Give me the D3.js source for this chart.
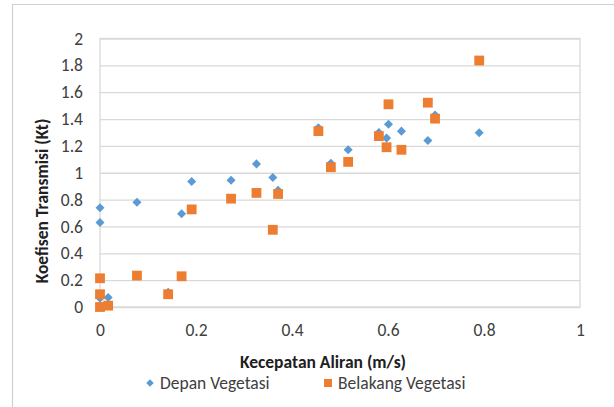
<!DOCTYPE html>
<html>
<head>
<meta charset="utf-8">
<script src="https://cdn.jsdelivr.net/npm/d3@7"></script>
<style>
  html, body { margin: 0; padding: 0; background: #fff; }
  svg { display: block; font-family: Carlito, Calibri, Lato, "Open Sans", sans-serif; }
</style>
</head>
<body>
<svg id="chart" width="614" height="407"></svg>
<script>
// Flow velocity (m/s) shared by both series, one entry per measurement
const kecepatan = [0, 0, 0, 0.017, 0.077, 0.142, 0.17, 0.191, 0.273, 0.326, 0.36,
                   0.371, 0.455, 0.481, 0.517, 0.581, 0.601, 0.597, 0.628, 0.683, 0.698, 0.79];
// Transmission coefficient in front of the vegetation
const depanVegetasi = [0.74, 0.63, 0.065, 0.07, 0.78, 0.11, 0.695, 0.935, 0.944, 1.066, 0.964,
                       0.87, 1.335, 1.07, 1.171, 1.30, 1.362, 1.258, 1.31, 1.24, 1.43, 1.298];
// Transmission coefficient behind the vegetation
const belakangVegetasi = [0.214, 0.095, 0.0, 0.01, 0.234, 0.095, 0.229, 0.727, 0.807, 0.85, 0.575,
                          0.842, 1.31, 1.041, 1.081, 1.273, 1.51, 1.19, 1.171, 1.522, 1.403, 1.836];
const xTicks = [0, 0.2, 0.4, 0.6, 0.8, 1];
const yTicks = [0, 0.2, 0.4, 0.6, 0.8, 1, 1.2, 1.4, 1.6, 1.8, 2];
const seriesNames = ["Depan Vegetasi", "Belakang Vegetasi"];
const colors = ["#5b9bd5", "#ed7d31"];
const fontFamily = "Carlito, Calibri, Lato, sans-serif";
const fontSize = 17.5;

const svg = d3.select("#chart");
const plot = { left: 100, right: 580, top: 38.5, bottom: 307 };

const x = d3.scaleLinear().domain([0, 1]).range([plot.left, plot.right]);
const y = d3.scaleLinear().domain([0, 2]).range([plot.bottom, plot.top]);

// chart area frame (top and left edges)
svg.append("path")
  .attr("d", "M12.5,407 V4.5 H614")
  .attr("fill", "none").attr("stroke", "#d0d0d0").attr("stroke-width", 1.2);

// horizontal gridlines with value labels
const yAxis = d3.axisLeft(y).tickValues(yTicks).tickSize(-(plot.right - plot.left))
  .tickFormat(d3.format("~g")).tickPadding(17);
const gy = svg.append("g").attr("transform", `translate(${plot.left},0)`).call(yAxis);
gy.select(".domain").remove();
gy.selectAll(".tick line").attr("stroke", "#d9d9d9").attr("stroke-width", 1.3);
gy.selectAll(".tick text").attr("fill", "#404040").attr("font-size", fontSize)
  .attr("font-family", fontFamily);

// x axis labels
const xAxis = d3.axisBottom(x).tickValues(xTicks).tickSize(0)
  .tickFormat(d3.format("~g")).tickPadding(17);
const gx = svg.append("g").attr("transform", `translate(0,${plot.bottom})`).call(xAxis);
gx.select(".domain").remove();
gx.selectAll(".tick text").attr("fill", "#404040").attr("font-size", fontSize)
  .attr("font-family", fontFamily);

// plot area border
svg.append("rect")
  .attr("x", plot.left).attr("y", plot.top)
  .attr("width", plot.right - plot.left).attr("height", plot.bottom - plot.top)
  .attr("fill", "none").attr("stroke", "#d9d9d9").attr("stroke-width", 1.3);

// markers
const diamond = d3.symbol().type(d3.symbolDiamond2).size(52);
const square = d3.symbol().type(d3.symbolSquare).size(96);

svg.append("g").selectAll("path").data(kecepatan).join("path")
  .attr("d", diamond)
  .attr("transform", (d, i) => `translate(${x(d)},${y(depanVegetasi[i])})`)
  .attr("fill", colors[0]);

svg.append("g").selectAll("path").data(kecepatan).join("path")
  .attr("d", square)
  .attr("transform", (d, i) => `translate(${x(d)},${y(belakangVegetasi[i])})`)
  .attr("fill", colors[1]);

// axis titles
svg.append("text")
  .attr("x", 323).attr("y", 368)
  .attr("text-anchor", "middle").attr("font-weight", "bold").attr("font-size", fontSize)
  .attr("fill", "#202020").text("Kecepatan Aliran (m/s)");

svg.append("text")
  .attr("transform", "translate(48,201) rotate(-90)")
  .attr("text-anchor", "middle").attr("font-weight", "bold").attr("font-size", fontSize)
  .attr("fill", "#202020").text("Koefisen Transmisi (Kt)");

// legend
const legend = svg.append("g");
const legendItems = [
  { name: seriesNames[0], sym: d3.symbol().type(d3.symbolDiamond2).size(36), color: colors[0], x: 150 },
  { name: seriesNames[1], sym: d3.symbol().type(d3.symbolSquare).size(64), color: colors[1], x: 328 }
];
legendItems.forEach(it => {
  legend.append("path").attr("d", it.sym).attr("fill", it.color)
    .attr("transform", `translate(${it.x},383)`);
  legend.append("text").attr("x", it.x + 10).attr("y", 389)
    .attr("font-size", fontSize).attr("fill", "#404040").text(it.name);
});
</script>
</body>
</html>
